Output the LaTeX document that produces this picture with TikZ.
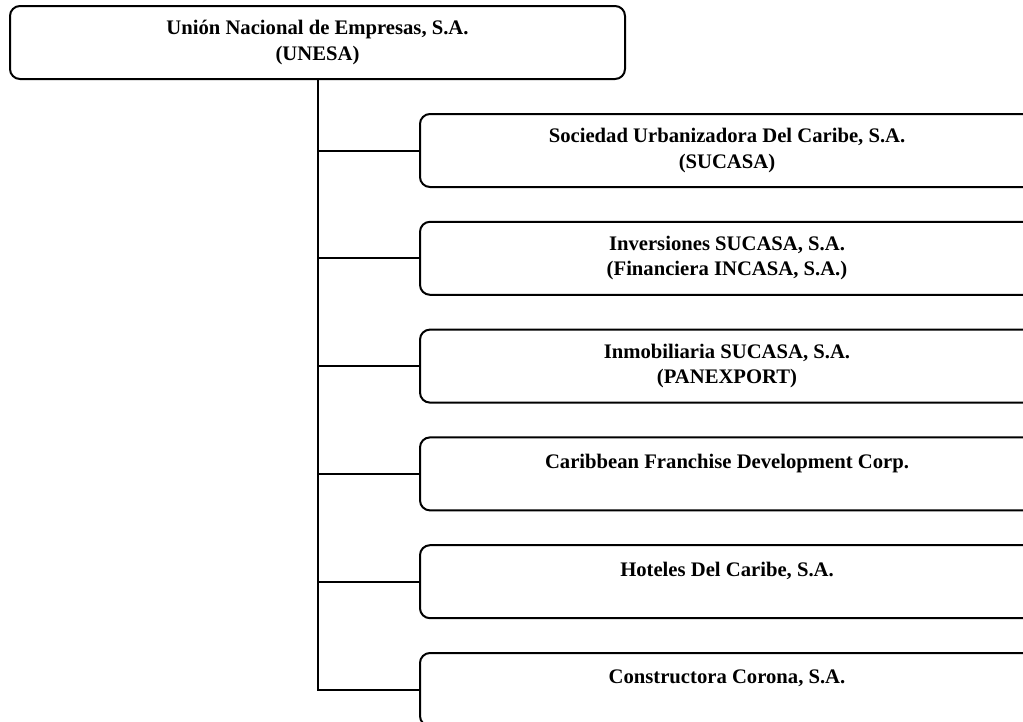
\documentclass[tikz,border=0pt]{standalone}
\usepackage{fontspec}
\setmainfont{Liberation Serif}
\usetikzlibrary{positioning}
\tikzset{
  orgbox/.style={draw, rectangle, rounded corners=7.5pt, line width=1.5pt, align=center, font=\fontsize{15.5}{19}\selectfont\bfseries, minimum height=54.75pt, inner sep=0pt, fill=white},
  subbox/.style={orgbox, minimum width=460.5pt},
  link/.style={line width=1.5pt},
}

\begin{document}
\begin{tikzpicture}[x=0.75pt, y=-0.75pt, node distance=24.6pt]
\path[use as bounding box, clip] (0,0) rectangle (1023,721);
\node[orgbox, minimum width=461.25pt] (unesa) at (317.5,42.5) {Unión Nacional de Empresas, S.A.\\(UNESA)};
\node[subbox] (sucasa) at (727,150.5) {Sociedad Urbanizadora Del Caribe, S.A.\\(SUCASA)};
\node[subbox, below=of sucasa] (incasa) {Inversiones SUCASA, S.A.\\(Financiera INCASA, S.A.)};
\node[subbox, below=of incasa] (inmob) {Inmobiliaria SUCASA, S.A.\\(PANEXPORT)};
\node[subbox, below=of inmob] (franq) {Caribbean Franchise Development Corp.\\\mbox{}};
\node[subbox, below=of franq] (hotel) {Hoteles Del Caribe, S.A.\\\mbox{}};
\node[subbox, below=of hotel] (corona) {Constructora Corona, S.A.\\\mbox{}};
\draw[link] (unesa.south) |- (corona.west);
\foreach \n in {sucasa,incasa,inmob,franq,hotel}
  \draw[link] (unesa.south |- \n.west) -- (\n.west);
\end{tikzpicture}
\end{document}
